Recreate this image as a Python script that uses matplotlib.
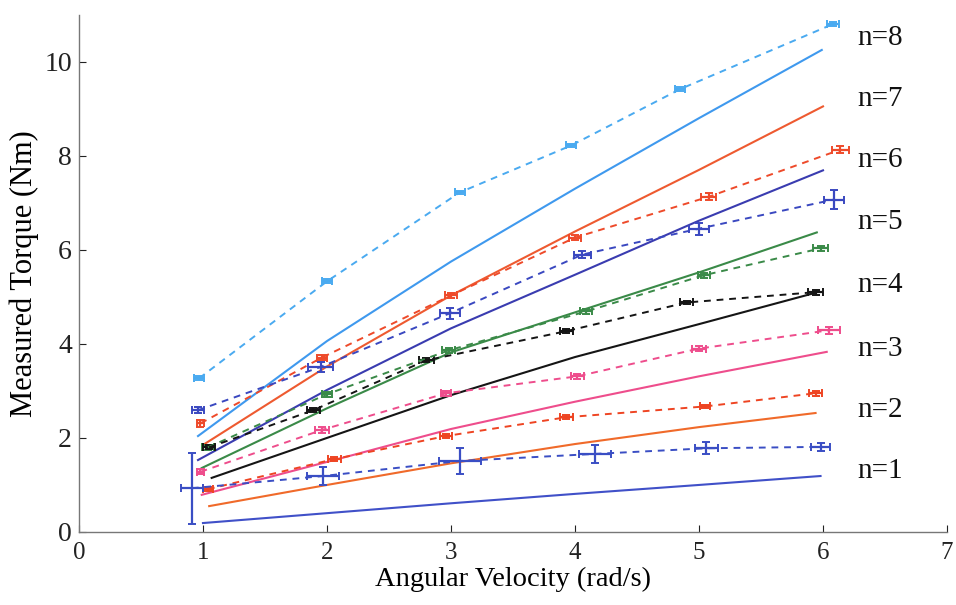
import matplotlib
matplotlib.use("Agg")
import matplotlib.pyplot as plt
import numpy as np

plt.rcParams['font.family'] = ['Liberation Serif', 'DejaVu Serif']

# ---- measured data (dashed, with error bars) ----
meas_x = {
    8: [0.97, 2.00, 3.07, 3.97, 4.85, 6.08],
    7: [0.98, 1.96, 3.00, 4.00, 5.08, 6.14],
    6: [0.96, 1.95, 2.99, 4.06, 5.00, 6.09],
    5: [1.04, 2.00, 2.98, 4.09, 5.04, 5.98],
    4: [1.05, 1.89, 2.80, 3.93, 4.90, 5.94],
    3: [0.98, 1.96, 2.96, 4.02, 5.00, 6.05],
    2: [1.04, 2.06, 2.96, 3.93, 5.05, 5.94],
    1: [0.91, 1.97, 3.07, 4.16, 5.06, 5.98],
}
meas_y = {
    8: [3.27, 5.33, 7.22, 8.22, 9.42, 10.80],
    7: [2.31, 3.71, 5.03, 6.26, 7.13, 8.13],
    6: [2.59, 3.51, 4.65, 5.90, 6.45, 7.07],
    5: [1.80, 2.93, 3.86, 4.69, 5.46, 6.03],
    4: [1.80, 2.59, 3.65, 4.27, 4.88, 5.10],
    3: [1.28, 2.17, 2.95, 3.31, 3.90, 4.29],
    2: [0.91, 1.55, 2.04, 2.44, 2.67, 2.95],
    1: [0.93, 1.19, 1.51, 1.66, 1.78, 1.81],
}
meas_xerr = {
    8: [0.04, 0.04, 0.04, 0.04, 0.04, 0.05],
    7: [0.03, 0.04, 0.05, 0.05, 0.06, 0.07],
    6: [0.05, 0.10, 0.08, 0.07, 0.08, 0.08],
    5: [0.05, 0.04, 0.05, 0.05, 0.05, 0.06],
    4: [0.05, 0.05, 0.06, 0.05, 0.05, 0.06],
    3: [0.03, 0.06, 0.04, 0.05, 0.06, 0.09],
    2: [0.04, 0.05, 0.05, 0.05, 0.04, 0.05],
    1: [0.09, 0.13, 0.17, 0.13, 0.09, 0.08],
}
meas_yerr = {
    8: [0.04, 0.04, 0.04, 0.04, 0.04, 0.05],
    7: [0.07, 0.06, 0.06, 0.06, 0.07, 0.07],
    6: [0.07, 0.10, 0.12, 0.08, 0.13, 0.20],
    5: [0.05, 0.05, 0.05, 0.05, 0.05, 0.05],
    4: [0.04, 0.04, 0.04, 0.04, 0.04, 0.05],
    3: [0.05, 0.06, 0.05, 0.05, 0.06, 0.07],
    2: [0.04, 0.05, 0.04, 0.04, 0.04, 0.05],
    1: [0.75, 0.19, 0.27, 0.19, 0.13, 0.09],
}

# ---- model curves (solid) ----
model_x = {
    8: [0.96, 2, 3, 4, 5, 5.99],
    7: [1.00, 2, 3, 4, 5, 6.00],
    6: [0.96, 2, 3, 4, 5, 6.00],
    5: [0.99, 2, 3, 4, 5, 5.95],
    4: [1.07, 2, 3, 4, 5, 5.93],
    3: [0.99, 2, 3, 4, 5, 6.03],
    2: [1.05, 2, 3, 4, 5, 5.94],
    1: [1.00, 2, 3, 4, 5, 5.98],
}
model_y = {
    8: [2.04, 4.06, 5.75, 7.30, 8.80, 10.25],
    7: [1.85, 3.52, 5.03, 6.39, 7.70, 9.05],
    6: [1.53, 3.02, 4.33, 5.47, 6.62, 7.69],
    5: [1.36, 2.63, 3.82, 4.67, 5.52, 6.37],
    4: [1.15, 2.00, 2.91, 3.72, 4.42, 5.08],
    3: [0.79, 1.49, 2.19, 2.77, 3.31, 3.83],
    2: [0.55, 1.00, 1.46, 1.87, 2.23, 2.53],
    1: [0.19, 0.40, 0.61, 0.81, 1.00, 1.19],
}

solid_colors = {8: '#3f99ee', 7: '#ee5a30', 6: '#3a3cb0', 5: '#3a8a48',
                4: '#151515', 3: '#ee4d8c', 2: '#f06a2a', 1: '#4050c8'}
dash_colors = {8: '#4aaaf0', 7: '#ee4a2a', 6: '#3a48c0', 5: '#3a8a48',
               4: '#151515', 3: '#ee4d8c', 2: '#ee4422', 1: '#3a4ec4'}

labels = ['n=8', 'n=7', 'n=6', 'n=5', 'n=4', 'n=3', 'n=2', 'n=1']
label_y = [10.5, 9.2, 7.9, 6.6, 5.25, 3.9, 2.6, 1.3]

xticks = [0, 1, 2, 3, 4, 5, 6, 7]
yticks = [0, 2, 4, 6, 8, 10]

fig = plt.figure(figsize=(9.56, 6.05), dpi=100)
ax = fig.add_axes([0.0826, 0.1207, 0.908, 0.855])

for n in range(8, 0, -1):
    ax.plot(model_x[n], model_y[n], '-', color=solid_colors[n], lw=1.5, zorder=2)
    ax.errorbar(meas_x[n], meas_y[n], xerr=meas_xerr[n], yerr=meas_yerr[n],
                fmt='--', color=dash_colors[n], lw=1.4, elinewidth=1.6,
                capsize=3, capthick=1.4, dashes=(3.5, 3), zorder=3)

for t, yv in zip(labels, label_y):
    ax.text(6.28, yv, t, fontsize=21, va='center', ha='left', color='#111111')

ax.set_xlim(0, 7)
ax.set_ylim(0, 11)
ax.set_xticks(xticks)
ax.set_yticks(yticks)
ax.tick_params(direction='in', length=5, colors='#222222', width=0.8)
ax.tick_params(axis='x', pad=7, labelsize=18)
ax.tick_params(axis='y', pad=5, labelsize=20)
for s in ['top', 'right']:
    ax.spines[s].set_visible(False)
for s in ['left', 'bottom']:
    ax.spines[s].set_color('#777777')
    ax.spines[s].set_linewidth(1.0)

ax.set_xlabel('Angular Velocity (rad/s)', fontsize=20.5, labelpad=2)
ax.set_ylabel('Measured Torque (Nm)', fontsize=22, labelpad=4)

fig.savefig('out.png', dpi=100)
